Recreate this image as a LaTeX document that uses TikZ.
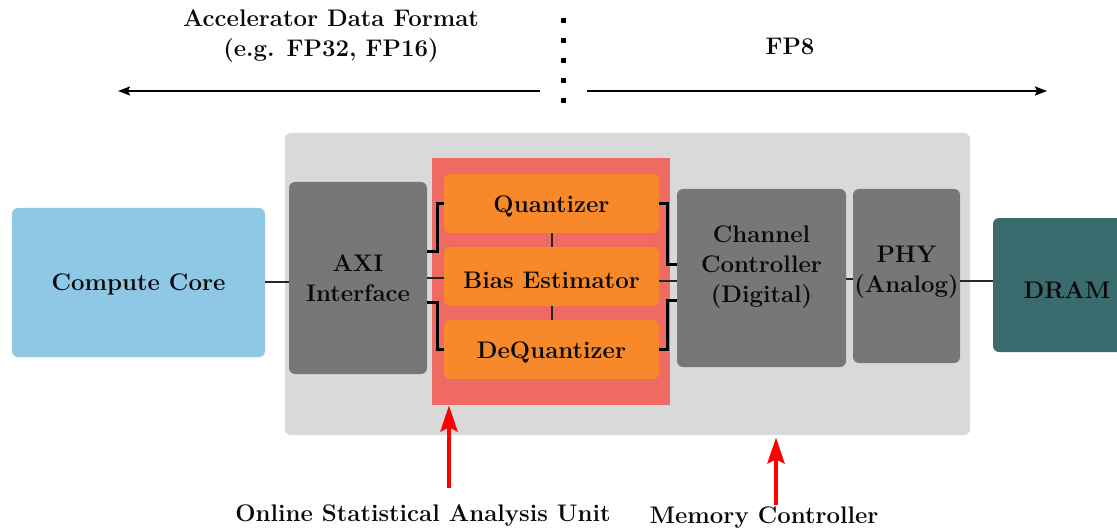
\documentclass[tikz,border=0pt]{standalone}
\usetikzlibrary{arrows.meta}
\definecolor{cblue}{HTML}{8FC8E5}
\definecolor{cbg}{HTML}{D9D9D9}
\definecolor{cgray}{HTML}{777777}
\definecolor{cred}{HTML}{EF6A62}
\definecolor{corange}{HTML}{F7892A}
\definecolor{cteal}{HTML}{3A6B6E}
\definecolor{ctext}{HTML}{0A0A0A}
\begin{document}
\begin{tikzpicture}[x=0.5pt,y=-0.5pt,
  font=\bfseries\fontsize{12}{15}\selectfont, text=ctext,
  blk/.style={rounded corners=3pt, draw=none, align=center, inner sep=0pt},
  obox/.style={blk, fill=corange, minimum width=107.5pt, minimum height=29.5pt},
  conn/.style={line width=1pt, black!85},
  bracket/.style={line width=1.5pt, black},
  toparrow/.style={line width=0.9pt, black, -{Stealth[length=6pt,width=4.5pt,inset=1pt]}},
  redarrow/.style={line width=2pt, red, -{Stealth[length=13pt,width=8.5pt,inset=2pt]}},
  dotline/.style={line width=2.5pt, black, dash pattern=on 2.5pt off 7.5pt}]
\useasboundingbox (0,0) rectangle (1117,529);

% background boxes
\node[blk, fill=cbg, minimum width=342.5pt, minimum height=151pt] (mcbox) at (627.5,284) {};
\node[blk, fill=cred, rounded corners=0pt, minimum width=119pt, minimum height=123.5pt] (osa) at (551,281.5) {};

% blocks
\node[blk, fill=cblue, minimum width=126.5pt, minimum height=74.5pt,
  label={[yshift=-1pt]center:Compute Core}] (cc) at (138.5,282.5) {};
\node[blk, fill=cgray, minimum width=69pt, minimum height=96pt] (axi) at (358,278) {AXI\\Interface};
\node[obox, label={[yshift=-1.5pt]center:Quantizer}] (quant) at (551.5,203.5) {};
\node[obox, label={[yshift=-2pt]center:Bias Estimator}] (bias) at (551.5,276.5) {};
\node[obox, label={[yshift=-1.5pt]center:DeQuantizer}] (deq) at (551.5,349.5) {};
\node[blk, fill=cgray, minimum width=84.5pt, minimum height=89pt,
  label={[align=center, yshift=5.5pt]center:Channel\\Controller\\(Digital)}] (chc) at (761.5,278) {};
\node[blk, fill=cgray, minimum width=53.5pt, minimum height=87pt,
  label={[align=center, yshift=2pt]center:PHY\\(Analog)}] (phy) at (906.5,276) {};
\node[blk, fill=cteal, minimum width=74pt, minimum height=67pt] (dram) at (1067,285) {};
\node[text=ctext] (dramlbl) at (1067,290) {DRAM};

% connectors
\draw[conn] (cc.east |- 0,282) -- (axi.west |- 0,282);
\draw[conn] (axi.east |- 0,278) -- (bias.west |- 0,278);
\draw[bracket] (axi.east |- 0,251) -- (437,251) |- (quant.west);
\draw[bracket] (axi.east |- 0,302) -- (437,302) |- (deq.west);
\draw[bracket] (quant.east) -- (667,203.5) |- (chc.west |- 0,264);
\draw[bracket] (deq.east) -- (667,349.5) |- (chc.west |- 0,300);
\draw[conn] (bias.east |- 0,281) -- (chc.west |- 0,281);
\draw[conn] (quant.south) -- (bias.north);
\draw[conn] (bias.south) -- (deq.north);
\draw[conn] (chc.east |- 0,279) -- (phy.west |- 0,279);
\draw[conn] (phy.east |- 0,281) -- (dram.west |- 0,281);

% top labels
\node[align=center] (adf) at (331,36) {Accelerator Data Format\\(e.g. FP32, FP16)};
\node (fp8) at (790,46) {FP8};
\coordinate (dtop) at (563,18);
\coordinate (dbot) at (563,110);
\draw[dotline] (dtop) -- (dbot);
\coordinate (la) at (540,91);
\coordinate (lb) at (118,91);
\coordinate (ra) at (587,91);
\coordinate (rb) at (1047,91);
\draw[toparrow] (la) -- (lb);
\draw[toparrow] (ra) -- (rb);

% bottom labels
\node (osalbl) at (423,515) {Online Statistical Analysis Unit};
\node (mclbl) at (764,518) {Memory Controller};
\coordinate (a1) at (449,488);
\coordinate (a2) at (776,505);
\draw[redarrow] (a1) -- (a1 |- osa.south);
\draw[redarrow, shorten >=1pt] (a2) -- (a2 |- mcbox.south);
\end{tikzpicture}
\end{document}
